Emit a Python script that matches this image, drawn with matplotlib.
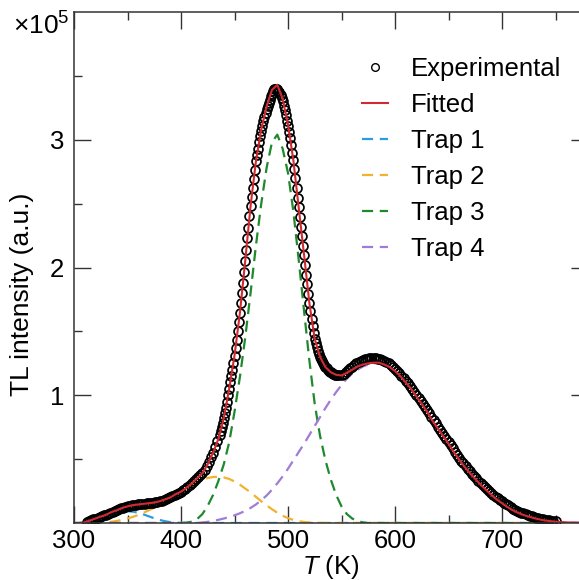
import numpy as np
import matplotlib.pyplot as plt
from matplotlib.lines import Line2D

plt.rcParams['font.family'] = ['Liberation Sans', 'DejaVu Sans']
plt.rcParams['mathtext.fontset'] = 'custom'
plt.rcParams['mathtext.rm'] = 'Liberation Sans'
plt.rcParams['mathtext.it'] = 'Liberation Sans:italic'

# intensities are in units of 1e5 (a.u.), temperatures in K

# fitted curve and the four trap components, 5 K grid from 300 to 780 K
fit_T = np.arange(300, 781, 5)
fitted = [0, 0, 0.005, 0.02, 0.035, 0.05, 0.065, 0.085, 0.10, 0.118,
          0.13, 0.14, 0.145, 0.15, 0.155, 0.16, 0.17, 0.185, 0.20, 0.225,
          0.245, 0.275, 0.31, 0.35, 0.39, 0.46, 0.55, 0.66, 0.82, 1.05,
          1.31, 1.64, 2.05, 2.48, 2.83, 3.08, 3.26, 3.39, 3.43, 3.32,
          3.12, 2.84, 2.47, 2.10, 1.72, 1.44, 1.30, 1.22, 1.18, 1.16,
          1.155, 1.175, 1.20, 1.225, 1.24, 1.25, 1.255, 1.255, 1.24, 1.22,
          1.19, 1.15, 1.10, 1.05, 0.99, 0.93, 0.87, 0.80, 0.74, 0.68,
          0.62, 0.555, 0.495, 0.44, 0.39, 0.345, 0.30, 0.26, 0.22, 0.185,
          0.155, 0.125, 0.10, 0.08, 0.063, 0.05, 0.038, 0.028, 0.02, 0.015,
          0.01, 0.007, 0.005, 0.003, 0.002, 0.001, 0]

trap1 = [0, 0, 0.005, 0.015, 0.03, 0.045, 0.06, 0.073, 0.083, 0.09,
         0.092, 0.089, 0.08, 0.067, 0.052, 0.037, 0.024, 0.014, 0.007, 0.003,
         0.001] + [0.0] * 76

trap2 = [0.0] * 5 + [0.003, 0.006, 0.01, 0.016, 0.025, 0.035, 0.048, 0.062, 0.08, 0.10,
                     0.12, 0.145, 0.17, 0.195, 0.22, 0.245, 0.27, 0.295, 0.318, 0.337,
                     0.352, 0.36, 0.362, 0.357, 0.345, 0.325, 0.30, 0.27, 0.24, 0.205,
                     0.17, 0.138, 0.108, 0.08, 0.057, 0.038, 0.024, 0.014, 0.008, 0.004,
                     0.002, 0.001] + [0.0] * 50

trap3 = [0.0] * 21 + [0.003, 0.01, 0.03, 0.07, 0.135, 0.22, 0.33, 0.46, 0.63, 0.87,
                      1.14, 1.45, 1.80, 2.17, 2.50, 2.78, 2.98, 3.04, 2.93, 2.74,
                      2.44, 2.06, 1.66, 1.27, 0.93, 0.68, 0.49, 0.34, 0.22, 0.13,
                      0.07, 0.035, 0.015, 0.005] + [0.0] * 42

trap4 = [0.0] * 24 + [0.004, 0.009, 0.016, 0.025, 0.035, 0.047, 0.06, 0.076, 0.095, 0.118,
                      0.145, 0.178, 0.215, 0.26, 0.31, 0.365, 0.425, 0.49, 0.555, 0.62,
                      0.69, 0.76, 0.83, 0.90, 0.965, 1.025, 1.08, 1.13, 1.17, 1.20,
                      1.225, 1.24, 1.25, 1.25, 1.24, 1.22, 1.19, 1.15, 1.10, 1.05,
                      0.99, 0.93, 0.87, 0.80, 0.74, 0.68, 0.62, 0.555, 0.495, 0.44,
                      0.39, 0.345, 0.30, 0.26, 0.22, 0.185, 0.155, 0.125, 0.10, 0.08,
                      0.063, 0.05, 0.038, 0.028, 0.02, 0.015, 0.01, 0.007, 0.005, 0.003,
                      0.002, 0.001, 0.0]

# experimental glow curve (2 K steps on the tails, 1 K around the main peak)
exp_T = list(range(312, 436, 2)) + list(range(436, 547)) + list(range(548, 751, 2))
exp_low = [0.010, 0.015, 0.022, 0.028, 0.035, 0.041, 0.047, 0.053, 0.059, 0.066,
           0.073, 0.081, 0.088, 0.094, 0.100, 0.107, 0.114, 0.120, 0.125, 0.130,
           0.134, 0.138, 0.141, 0.143, 0.145, 0.147, 0.149, 0.151, 0.153, 0.155,
           0.157, 0.159, 0.162, 0.166, 0.170, 0.176, 0.182, 0.188, 0.194, 0.200,
           0.210, 0.220, 0.229, 0.237, 0.245, 0.257, 0.269, 0.282, 0.296, 0.310,
           0.326, 0.342, 0.357, 0.373, 0.390, 0.418, 0.446, 0.478, 0.514, 0.550,
           0.594, 0.638]
exp_peak = [0.69, 0.72, 0.75, 0.785, 0.82, 0.86, 0.90, 0.95, 1.00, 1.05,
            1.10, 1.15, 1.20, 1.255, 1.31, 1.37, 1.43, 1.50, 1.57, 1.64,
            1.72, 1.80, 1.88, 1.965, 2.05, 2.14, 2.23, 2.31, 2.40, 2.48,
            2.55, 2.62, 2.69, 2.76, 2.83, 2.88, 2.93, 2.98, 3.03, 3.07,
            3.11, 3.145, 3.18, 3.21, 3.24, 3.265, 3.29, 3.315, 3.34, 3.36,
            3.38, 3.395, 3.40, 3.40, 3.395, 3.385, 3.37, 3.35, 3.33, 3.30,
            3.265, 3.23, 3.19, 3.15, 3.11, 3.06, 3.01, 2.96, 2.90, 2.84,
            2.77, 2.70, 2.62, 2.545, 2.47, 2.395, 2.32, 2.245, 2.17, 2.10,
            2.02, 1.94, 1.87, 1.79, 1.72, 1.66, 1.60, 1.54, 1.49, 1.44,
            1.41, 1.38, 1.35, 1.325, 1.30, 1.28, 1.265, 1.25, 1.235, 1.22,
            1.21, 1.20, 1.19, 1.185, 1.18, 1.175, 1.17, 1.165, 1.16, 1.16,
            1.155]
exp_high = [1.155, 1.16, 1.17, 1.18, 1.195, 1.21, 1.225, 1.238, 1.25, 1.26,
            1.268, 1.275, 1.28, 1.285, 1.288, 1.29, 1.29, 1.288, 1.285, 1.28,
            1.275, 1.268, 1.26, 1.25, 1.238, 1.224, 1.208, 1.19, 1.172, 1.154,
            1.135, 1.115, 1.094, 1.073, 1.051, 1.028, 1.005, 0.982, 0.958, 0.934,
            0.91, 0.885, 0.859, 0.833, 0.807, 0.781, 0.755, 0.731, 0.707, 0.683,
            0.659, 0.635, 0.61, 0.585, 0.559, 0.534, 0.51, 0.488, 0.467, 0.446,
            0.425, 0.405, 0.387, 0.369, 0.35, 0.332, 0.315, 0.299, 0.283, 0.267,
            0.251, 0.235, 0.221, 0.207, 0.194, 0.182, 0.17, 0.159, 0.148, 0.137,
            0.125, 0.113, 0.105, 0.097, 0.09, 0.082, 0.075, 0.069, 0.063, 0.058,
            0.052, 0.047, 0.043, 0.038, 0.034, 0.03, 0.027, 0.024, 0.021, 0.018,
            0.015, 0.012]
exp_I = exp_low + exp_peak + exp_high

scale = 1e5
trap_names = ['Trap 1', 'Trap 2', 'Trap 3', 'Trap 4']
trap_colors = ['#2a9de0', '#f2b22e', '#1e8a2c', '#a07cd4']
traps = [trap1, trap2, trap3, trap4]

fig = plt.figure(figsize=(5.79, 5.80), dpi=100)
ax = fig.add_axes([74 / 579, 57 / 580, 513.6 / 579, 511 / 580])

for vals, col in zip(traps, trap_colors):
    ax.plot(fit_T, np.array(vals) * scale, color=col, lw=1.6, ls=(0, (5, 3)))

ax.plot(exp_T, np.array(exp_I) * scale, 'o', mfc='none', mec='black',
        ms=6.4, mew=1.25)
ax.plot(fit_T, np.array(fitted) * scale, color='#d12a32', lw=1.5)

ax.set_xlim(300, 780)
ax.set_ylim(0, 4.0e5)
ax.set_xticks([300, 400, 500, 600, 700])
ax.set_xticks([350, 450, 550, 650, 750], minor=True)
ax.set_yticks([1e5, 2e5, 3e5])
ax.set_yticklabels(['1', '2', '3'])
ax.set_yticks([0.5e5, 1.5e5, 2.5e5, 3.5e5], minor=True)
ax.tick_params(which='both', direction='in', top=True, right=True,
               labelsize=18.5, width=1.0, color='#333333')
ax.tick_params(which='major', length=12)
ax.tick_params(which='minor', length=5.5)
ax.tick_params(axis='x', pad=4)
ax.tick_params(axis='y', pad=7)
for sp in ax.spines.values():
    sp.set_linewidth(1.1)
    sp.set_color('#333333')
ax.spines['right'].set_visible(False)

fig.text(22 / 579, 1 - 294 / 580, 'TL intensity (a.u.)', rotation=90,
         ha='center', va='center', fontsize=19)
fig.text(331 / 579, 1 - 567 / 580, '$T$ (K)', ha='center', va='center',
         fontsize=18.5)
fig.text(13 / 579, 1 - 26 / 580, '×10$^{5}$', ha='left', va='center',
         fontsize=19)

handles = [Line2D([], [], ls='none', marker='o', mfc='none', mec='black',
                  ms=5.5, mew=1.0),
           Line2D([], [], color='#d12a32', lw=1.5)]
handles += [Line2D([], [], color=c, lw=1.6, ls=(0, (5, 3))) for c in trap_colors]
ax.legend(handles, ['Experimental', 'Fitted'] + trap_names,
          loc='upper left', bbox_to_anchor=(362 / 579, 1 - 57 / 580),
          bbox_transform=fig.transFigure, frameon=False, fontsize=18.5,
          handlelength=1.0, handletextpad=0.9, labelspacing=0.47,
          borderpad=0, borderaxespad=0)

fig.savefig('out.png', dpi=100)
